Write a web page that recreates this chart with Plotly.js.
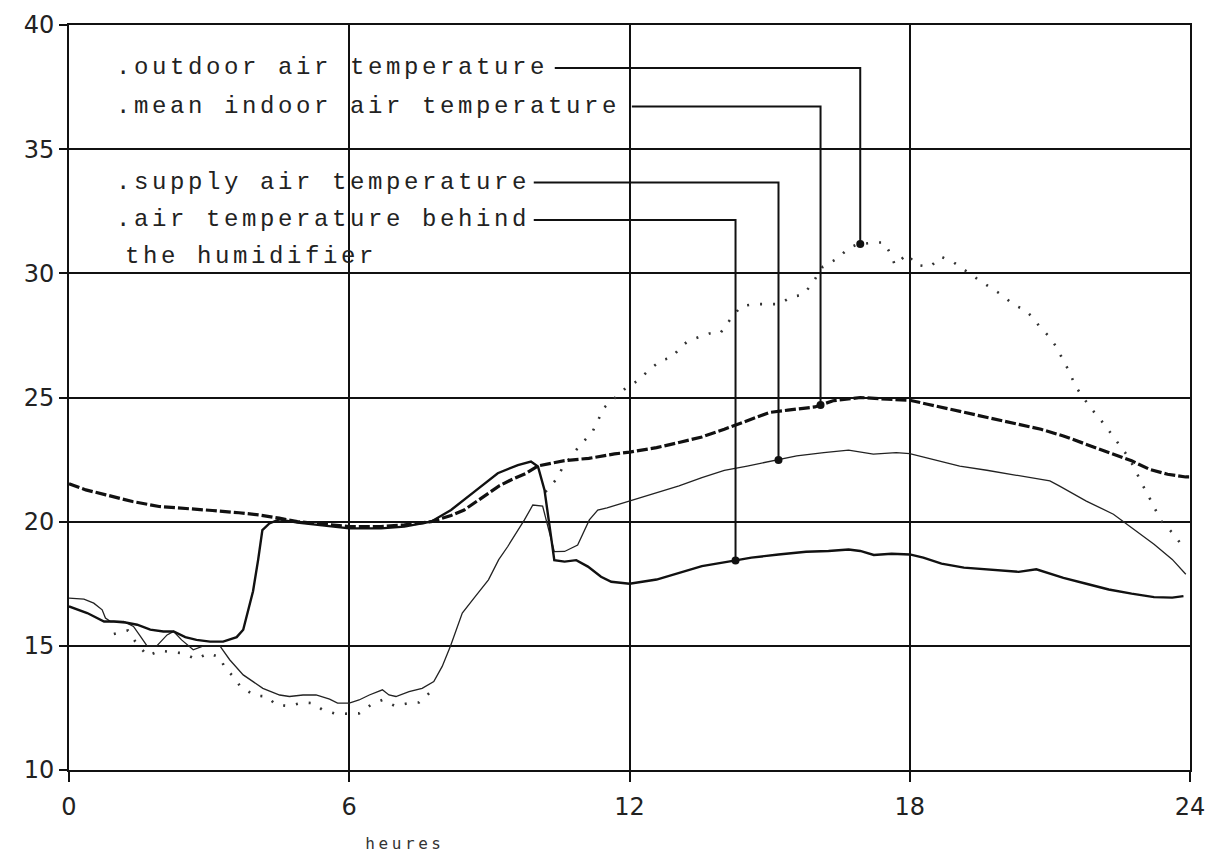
<!DOCTYPE html>
<html><head><meta charset="utf-8">
<script src="https://cdn.plot.ly/plotly-3.0.1.min.js"></script>
<style>
html,body{margin:0;padding:0;background:#fff}
#chart{width:1208px;height:855px}
#chart g.annotation text{letter-spacing:3.6px}
</style>
</head><body><div id="chart"></div>
<script>
// ---- data ----
const outdoorHours = [0.96,1.26,1.42,1.68,1.95,2.45,2.72,2.98,3.23,3.34,3.52,3.67,3.98,4.23,4.44,4.72,5.0,5.22,5.43,5.72,6.21,6.46,6.71,6.98,7.27,7.49,7.71,
  8.9,
  10.2,10.43,10.57,10.89,11.21,11.46,11.95,12.2,12.4,12.68,12.9,13.1,13.26,13.49,13.71,13.94,14.14,14.39,14.7,14.95,15.2,15.47,15.71,15.89,16.14,16.46,16.68,16.88,17.27,17.45,17.59,17.68,17.95,18.13,18.44,18.67,18.95,19.48,19.7,19.97,20.24,20.47,20.65,20.78,20.96,21.14,21.23,21.36,21.56,21.68,21.91,22.16,22.45,22.69,22.84,22.94,23.13,23.38,23.62,23.81,23.95];
const outdoorTemps = [15.48,15.62,15.17,14.6,14.8,14.7,14.46,14.7,14.54,14.1,13.76,13.36,13.0,12.96,12.62,12.58,12.72,12.69,12.42,12.26,12.28,12.62,12.82,12.58,12.69,12.72,13.09,
  null,
  21.2,21.7,22.19,22.96,23.63,24.6,25.43,25.7,26.08,26.5,26.6,27.04,27.28,27.45,27.58,27.58,28.1,28.68,28.76,28.76,28.76,29.06,29.13,29.53,30.27,30.6,31.0,31.17,31.24,31.24,30.78,30.34,30.78,30.34,30.27,30.67,30.43,29.73,29.46,29.13,28.72,28.52,28.19,27.85,27.5,27.04,26.7,26.24,25.43,25.08,24.5,23.93,23.19,22.58,22.04,21.64,20.97,20.03,19.56,19.09,18.9];

const indoorHours = [0,0.36,0.79,1.36,1.93,2.5,3.07,3.64,4.07,4.5,4.89,5.61,6.0,6.68,7.18,7.75,8.18,8.46,8.71,8.96,9.21,9.46,9.79,10.05,10.61,11.13,11.68,12.0,12.58,13.06,13.55,14.03,14.52,15.0,15.39,15.97,16.36,16.94,17.52,18.0,18.38,18.87,19.35,19.84,20.33,20.81,21.29,21.78,22.26,22.75,23.13,23.52,23.91,24.0];
const indoorTemps = [21.53,21.28,21.08,20.81,20.61,20.54,20.45,20.36,20.27,20.14,20.0,19.87,19.8,19.8,19.87,20.0,20.25,20.47,20.8,21.14,21.44,21.68,21.95,22.25,22.46,22.55,22.73,22.8,22.98,23.19,23.41,23.72,24.06,24.4,24.49,24.62,24.87,25.0,24.93,24.89,24.73,24.53,24.33,24.13,23.92,23.72,23.45,23.12,22.78,22.45,22.11,21.91,21.8,21.8];

const supplyHours = [0.0,0.32,0.53,0.71,0.78,0.89,1.17,1.38,1.53,1.67,1.88,2.1,2.24,2.41,2.66,2.88,3.23,3.44,3.73,4.15,4.51,4.72,5.01,5.29,5.58,5.75,6.0,6.21,6.43,6.71,6.85,7.0,7.28,7.56,7.81,7.99,8.17,8.42,8.7,8.98,9.2,9.39,9.75,9.93,10.14,10.39,10.61,10.89,11.14,11.32,11.52,12.0,12.58,13.06,13.55,14.03,14.52,15.1,15.58,16.16,16.69,17.22,17.71,18.0,18.49,19.07,19.65,20.33,21.0,21.2,21.78,22.36,22.75,23.23,23.62,23.91];
const supplyTemps = [16.92,16.88,16.72,16.45,16.12,15.98,15.98,15.78,15.38,15.0,15.0,15.44,15.58,15.24,14.84,15.0,15.0,14.44,13.83,13.29,13.02,12.96,13.02,13.02,12.85,12.69,12.69,12.82,13.02,13.23,13.02,12.96,13.16,13.29,13.56,14.17,15.0,16.32,16.99,17.66,18.47,18.99,20.07,20.67,20.63,18.79,18.8,19.06,20.07,20.47,20.56,20.83,21.17,21.44,21.77,22.07,22.24,22.45,22.65,22.78,22.88,22.72,22.78,22.74,22.51,22.24,22.07,21.84,21.64,21.44,20.83,20.3,19.76,19.09,18.48,17.88];

const humidHours = [0.0,0.39,0.75,0.96,1.21,1.46,1.74,2.02,2.24,2.49,2.73,3.02,3.3,3.59,3.73,3.84,3.94,4.05,4.14,4.29,4.5,4.89,5.61,6.0,6.68,7.18,7.75,8.18,8.68,9.18,9.61,9.89,10.04,10.18,10.32,10.39,10.61,10.86,11.11,11.39,11.61,12.0,12.58,13.06,13.55,14.18,14.61,15.19,15.78,16.26,16.69,16.94,17.23,17.61,18.0,18.29,18.68,19.16,19.84,20.33,20.71,21.29,21.78,22.26,22.75,23.23,23.62,23.86];
const humidTemps = [16.59,16.32,15.98,15.98,15.94,15.85,15.65,15.58,15.58,15.35,15.24,15.17,15.17,15.35,15.65,16.45,17.2,18.47,19.66,19.93,20.09,19.96,19.8,19.73,19.73,19.8,20.0,20.47,21.21,21.95,22.28,22.42,22.22,21.28,19.4,18.45,18.39,18.45,18.19,17.78,17.58,17.5,17.67,17.94,18.21,18.41,18.55,18.68,18.79,18.82,18.88,18.82,18.66,18.71,18.68,18.55,18.31,18.15,18.04,17.98,18.08,17.74,17.5,17.27,17.1,16.96,16.94,17.0];

const xTickVals = [0,6,12,18,24];
const yTickVals = [10,15,20,25,30,35,40];

// callouts (labels with leader lines to a point on each curve)
const calloutLabels = ['.outdoor air temperature', '.mean indoor air temperature', '.supply air temperature', '.air temperature behind'];
const calloutLabelLevels = [38.27, 36.72, 33.66, 32.15];
const calloutLeaderStart = [10.4, 12.05, 9.95, 9.95];
const calloutHours = [16.94, 16.09, 15.19, 14.27];
const calloutSecondLine = 'the humidifier';
const calloutSecondLevel = 30.68;
const xAxisTitle = 'heures';

// ---- helpers ----
function interp(xs, ys, x) {
  for (let i = 0; i < xs.length - 1; i++) {
    if (ys[i] == null || ys[i+1] == null) continue;
    if (x >= xs[i] && x <= xs[i+1]) {
      const t = (x - xs[i]) / (xs[i+1] - xs[i]);
      return ys[i] + t * (ys[i+1] - ys[i]);
    }
  }
  return null;
}
const seriesForCallout = [[outdoorHours, outdoorTemps],[indoorHours, indoorTemps],[supplyHours, supplyTemps],[humidHours, humidTemps]];
const calloutTargets = calloutHours.map((h, i) => interp(seriesForCallout[i][0], seriesForCallout[i][1], h));

const traces = [
  {x: outdoorHours, y: outdoorTemps, mode: 'lines', connectgaps: false, line: {color: '#333', width: 2.6, dash: '2px,11px'}},
  {x: indoorHours, y: indoorTemps, mode: 'lines', line: {color: '#111', width: 3.2, dash: '11px,3px'}},
  {x: supplyHours, y: supplyTemps, mode: 'lines', line: {color: '#222', width: 1.3}},
  {x: humidHours, y: humidTemps, mode: 'lines', line: {color: '#111', width: 2.4}},
  {x: calloutHours, y: calloutTargets, mode: 'markers', marker: {color: '#111', size: 8}}
];

const shapes = calloutHours.map((h, i) => ({
  type: 'path', xref: 'x', yref: 'y',
  path: 'M' + calloutLeaderStart[i] + ',' + calloutLabelLevels[i] + ' L' + h + ',' + calloutLabelLevels[i] + ' L' + h + ',' + calloutTargets[i],
  line: {color: '#111', width: 2}
}));

const annFont = {family: '"Liberation Mono", "DejaVu Sans Mono", monospace', size: 24, color: '#222'};
const annotations = calloutLabels.map((t, i) => ({
  x: 0.96, y: calloutLabelLevels[i], xref: 'x', yref: 'y', text: t, showarrow: false,
  xanchor: 'left', yanchor: 'middle', align: 'left', font: annFont
}));
annotations.push({x: 1.16, y: calloutSecondLevel, xref: 'x', yref: 'y', text: calloutSecondLine, showarrow: false,
  xanchor: 'left', yanchor: 'middle', align: 'left', font: annFont});
annotations.push({x: 7.2, y: -0.098, xref: 'x', yref: 'paper', text: xAxisTitle, showarrow: false,
  xanchor: 'center', yanchor: 'middle', font: {family: '"DejaVu Sans Mono", monospace', size: 16, color: '#333'}});

const layout = {
  width: 1208, height: 855,
  margin: {l: 69, r: 18, t: 25, b: 85, pad: 0},
  paper_bgcolor: '#fff', plot_bgcolor: '#fff',
  showlegend: false,
  font: {family: '"DejaVu Sans", sans-serif', color: '#111'},
  xaxis: {
    range: [0, 24], tickvals: xTickVals, ticktext: xTickVals.map(String),
    showgrid: true, gridcolor: '#111', gridwidth: 2,
    showline: true, mirror: true, linecolor: '#111', linewidth: 2,
    ticks: 'outside', ticklen: 10, tickwidth: 2, tickcolor: '#111',
    tickfont: {size: 24, color: '#222'}, ticklabelstandoff: 4, zeroline: false
  },
  yaxis: {
    range: [10, 40], tickvals: yTickVals, ticktext: yTickVals.map(String),
    showgrid: true, gridcolor: '#111', gridwidth: 2,
    showline: true, mirror: true, linecolor: '#111', linewidth: 2,
    ticks: 'outside', ticklen: 8, tickwidth: 2, tickcolor: '#111',
    tickfont: {size: 24, color: '#222'}, ticklabelstandoff: 0, zeroline: false
  },
  shapes: shapes,
  annotations: annotations
};

Plotly.newPlot('chart', traces, layout, {staticPlot: true, displayModeBar: false});
</script>
</body></html>
